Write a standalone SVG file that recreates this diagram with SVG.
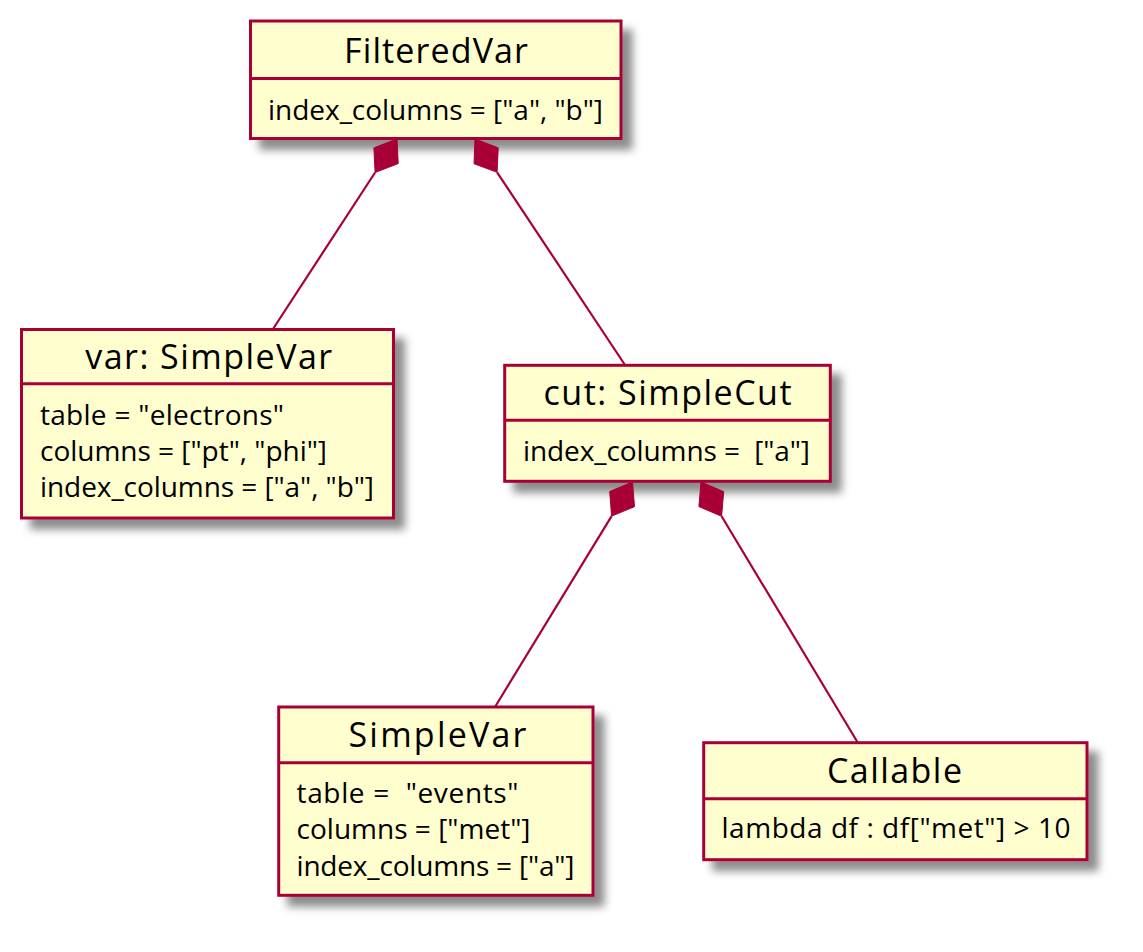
<svg xmlns="http://www.w3.org/2000/svg" width="1143" height="952" viewBox="0 0 1143 952">
<style>
.box{fill:#FEFECE;stroke:#A80036;stroke-width:3;filter:url(#sh)}
.sep{stroke:#A80036;stroke-width:3}
.title{font-family:"Open Sans","Noto Sans","DejaVu Sans",sans-serif;font-size:34px;fill:#000;text-anchor:middle}
.attr{font-family:"Open Sans","Noto Sans","DejaVu Sans",sans-serif;font-size:28px;fill:#000;white-space:pre}
.link{stroke:#A80036;stroke-width:2.2;fill:none}
.dia{fill:#A80036;stroke:#A80036;stroke-width:1}
</style>
<defs>
<filter id="sh" x="-0.1" y="-0.25" width="1.3" height="1.6">
<feGaussianBlur in="SourceAlpha" stdDeviation="4" result="b"/>
<feColorMatrix in="b" type="matrix" values="0 0 0 0 0 0 0 0 0 0 0 0 0 0 0 0 0 0 .45 0" result="b2"/>
<feOffset in="b2" dx="10" dy="10" result="b3"/>
<feMerge><feMergeNode in="b3"/><feMergeNode in="SourceGraphic"/></feMerge>
</filter>
</defs>
<rect width="1143" height="952" fill="#FFFFFF"/>
<g id="FilteredVar">
<rect class="box" x="250.5" y="21" width="370.5" height="117.5"/>
<line class="sep" x1="250.5" y1="78.5" x2="621" y2="78.5"/>
<text class="title" x="436" y="63.3" textLength="184" lengthAdjust="spacing">FilteredVar</text>
<text class="attr" x="268" y="120" textLength="335" lengthAdjust="spacing">index_columns = ["a", "b"]</text>
</g>
<g id="var">
<rect class="box" x="21.5" y="329.5" width="372" height="188.5"/>
<line class="sep" x1="21.5" y1="383.7" x2="393.5" y2="383.7"/>
<text class="title" x="208.7" y="369.3" textLength="247" lengthAdjust="spacing">var: SimpleVar</text>
<text class="attr" x="40" y="425" textLength="244" lengthAdjust="spacing">table = "electrons"</text>
<text class="attr" x="40" y="460.7" textLength="287" lengthAdjust="spacing">columns = ["pt", "phi"]</text>
<text class="attr" x="40" y="496.7" textLength="334" lengthAdjust="spacing">index_columns = ["a", "b"]</text>
</g>
<g id="cut">
<rect class="box" x="504.7" y="365.3" width="325.6" height="116"/>
<line class="sep" x1="504.7" y1="420.3" x2="830.3" y2="420.3"/>
<text class="title" x="667.5" y="405" textLength="248" lengthAdjust="spacing">cut: SimpleCut</text>
<text class="attr" x="523" y="461" textLength="287" lengthAdjust="spacing" xml:space="preserve">index_columns =  ["a"]</text>
</g>
<g id="SimpleVar">
<rect class="box" x="278.7" y="707" width="314.3" height="188.3"/>
<line class="sep" x1="278.7" y1="762.7" x2="593" y2="762.7"/>
<text class="title" x="437.5" y="746.7" textLength="178" lengthAdjust="spacing">SimpleVar</text>
<text class="attr" x="296.5" y="803.3" textLength="222" lengthAdjust="spacing" xml:space="preserve">table =  "events"</text>
<text class="attr" x="296.5" y="839.3" textLength="234" lengthAdjust="spacing">columns = ["met"]</text>
<text class="attr" x="296.5" y="875.7" textLength="278" lengthAdjust="spacing">index_columns = ["a"]</text>
</g>
<g id="Callable">
<rect class="box" x="703.7" y="742.7" width="383.3" height="117"/>
<line class="sep" x1="703.7" y1="798.7" x2="1087" y2="798.7"/>
<text class="title" x="894.5" y="783.3" textLength="135" lengthAdjust="spacing">Callable</text>
<text class="attr" x="721.5" y="838.3" textLength="349" lengthAdjust="spacing">lambda df : df["met"] &gt; 10</text>
</g>
<g id="connectors">
<line class="link" x1="375.1" y1="172.5" x2="273" y2="329"/>
<polygon class="dia" points="397,139 398.2,163.6 375.1,172.5 373.9,147.8"/>
<line class="link" x1="497.1" y1="172.3" x2="625" y2="365"/>
<polygon class="dia" points="475,139 498.2,147.7 497.1,172.3 474,163.7"/>
<line class="link" x1="611.6" y1="516.1" x2="495" y2="707"/>
<polygon class="dia" points="632.5,482 634.5,506.7 611.6,516.1 609.7,491.5"/>
<line class="link" x1="721.6" y1="516.3" x2="858" y2="743"/>
<polygon class="dia" points="701,482 723.7,491.6 721.6,516.3 698.9,506.6"/>
</g>
</svg>
